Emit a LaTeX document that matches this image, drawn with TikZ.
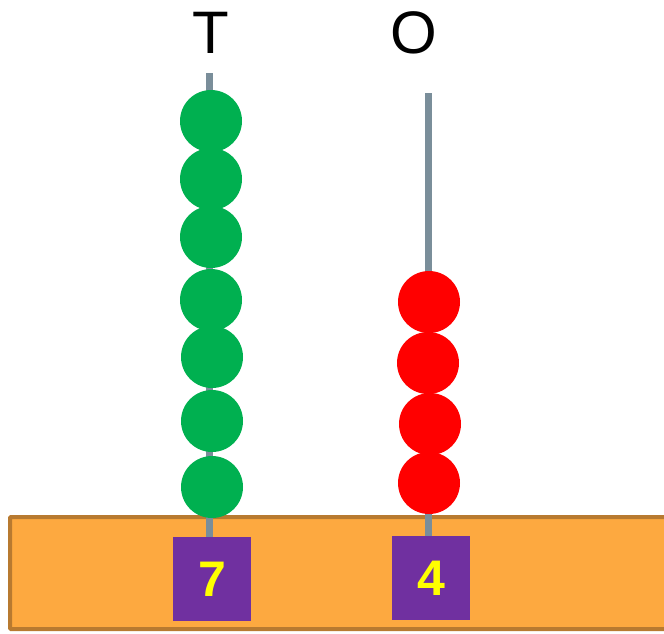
\documentclass[tikz,border=0pt]{standalone}
\usepackage{fontspec}
\setmainfont{Liberation Sans}
\definecolor{basefill}{HTML}{FDA940}
\definecolor{baseline}{HTML}{B87A30}
\definecolor{rodcol}{HTML}{7A8E9A}
\definecolor{beadgreen}{HTML}{00B050}
\definecolor{beadred}{HTML}{FF0000}
\definecolor{boxpurple}{HTML}{7030A0}
\definecolor{digit}{HTML}{FFFF00}
\begin{document}
\begin{tikzpicture}[x=1pt,y=-1pt,
  bead/.style={circle,minimum size=62pt,inner sep=0pt,draw=none},
  gbead/.style={bead,fill=beadgreen},
  rbead/.style={bead,fill=beadred},
  digitbox/.style={fill=boxpurple,minimum width=78pt,minimum height=84pt,inner sep=0pt,
    text=digit,font=\fontsize{50}{50}\selectfont\bfseries},
  rod/.style={draw=rodcol,line width=7pt},
  heading/.style={font=\fontsize{60}{60}\selectfont,text=black,inner sep=0pt}]
\useasboundingbox (0,0) rectangle (664,633);
% base
\draw[fill=basefill,draw=baseline,line width=4pt,rounded corners=1pt] (10,517) rectangle (690,629);
% headings
\node[heading] (hT) at (211,33) {T};
\node[heading] (hO) at (414,33) {O};
% rod tops
\coordinate (tTop) at (209,73);
\coordinate (oTop) at (428,93);
% boxes
\node[digitbox] (boxT) at (212,579) {7};
\node[digitbox] (boxO) at (431,578) {4};
% rods
\draw[rod] (tTop) -- (boxT.north -| tTop);
\draw[rod] (oTop) -- (boxO.north -| oTop);
% green beads
\node[gbead] (g1) at (211,121) {};
\node[gbead] (g2) at (211,179) {};
\node[gbead] (g3) at (211,237) {};
\node[gbead] (g4) at (211,300) {};
\node[gbead] (g5) at (212,357) {};
\node[gbead] (g6) at (212,421) {};
\node[gbead] (g7) at (212,487) {};
% red beads
\node[rbead] (r1) at (429,302) {};
\node[rbead] (r2) at (428,363) {};
\node[rbead] (r3) at (430,424) {};
\node[rbead] (r4) at (429,483) {};
% redraw boxes on top
\node[digitbox] at (boxT) {7};
\node[digitbox] at (boxO) {4};
\end{tikzpicture}
\end{document}
